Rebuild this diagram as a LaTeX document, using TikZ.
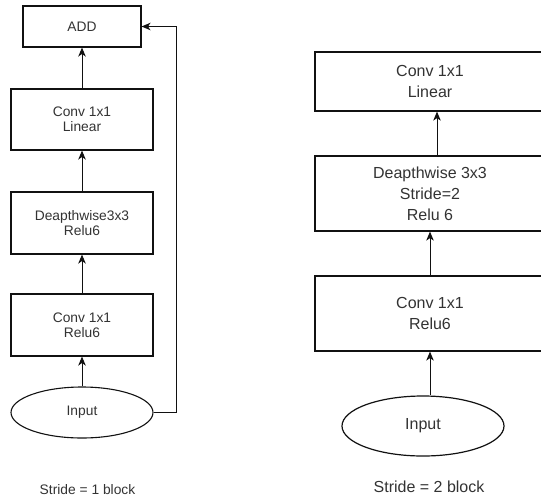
\documentclass[tikz,border=0pt]{standalone}
\usepackage{fontspec}
\setmainfont{Liberation Sans}
\usetikzlibrary{shapes.geometric,arrows.meta}
\definecolor{txt}{HTML}{333333}
\definecolor{ln}{HTML}{111111}
\tikzset{
  lbox/.style={draw=ln, line width=1.1pt, rectangle, inner sep=0pt, align=center, text=txt, font=\fontsize{13.8}{15}\selectfont},
  rbox/.style={draw=ln, line width=1.2pt, rectangle, inner sep=0pt, align=center, text=txt, font=\fontsize{16}{21}\selectfont, minimum width=230pt},
  lell/.style={draw=ln, line width=1.1pt, ellipse, inner sep=0pt, text=txt, font=\fontsize{13.8}{15}\selectfont},
  rell/.style={draw=ln, line width=1.2pt, ellipse, inner sep=0pt, text=txt, font=\fontsize{16}{19}\selectfont},
  arr/.style={draw=ln, line width=1pt, -{Stealth[length=9pt,width=7.5pt,inset=2.5pt]}},
  cap1/.style={text=txt, font=\fontsize{13.8}{15}\selectfont, inner sep=0pt},
  cap2/.style={text=txt, font=\fontsize{16}{19}\selectfont, inner sep=0pt}
}
\begin{document}
\begin{tikzpicture}[x=1pt,y=-1pt]
\useasboundingbox (0,0) rectangle (541,499);
\clip (0,0) rectangle (541,499);
\fill[white] (0,0) rectangle (541,499);
% left column
\node[lbox, minimum width=118pt, minimum height=41pt] (add) at (82,26.5) {ADD};
\node[lbox, minimum width=142pt, minimum height=61pt] (l1) at (82,119.5) {Conv 1x1\\Linear};
\node[lbox, minimum width=142pt, minimum height=62pt] (l2) at (82,223) {Deapthwise3x3\\Relu6};
\node[lbox, minimum width=142pt, minimum height=62pt] (l3) at (82,325) {Conv 1x1\\Relu6};
\node[lell, minimum width=142pt, minimum height=51pt] (lin) at (82,412.5) {Input};
\coordinate (lc) at (176,412.5);
\draw[arr] (lin) -- (l3);
\draw[arr] (l3) -- (l2);
\draw[arr] (l2) -- (l1);
\draw[arr] (l1) -- (add);
\draw[arr] (lin.east) -- (lc) |- (add.east);
\node[cap1] (lcap) at (87.5,490) {Stride = 1 block};
% right column
\node[rbox, minimum height=59pt] (r1) at (430,81.5) {Conv 1x1\\Linear};
\node[rbox, minimum height=75pt] (r2) at (430,193.5) {Deapthwise 3x3\\Stride=2\\Relu 6};
\node[rbox, minimum height=75pt] (r3) at (430,313.5) {Conv 1x1\\Relu6};
\node[rell, minimum width=162pt, minimum height=60pt] (rin) at (423,426) {Input};
\draw[arr] (r3.south |- rin.north) -- (r3.south);
\draw[arr] (r3.north) -- (r2.south);
\draw[arr] ([xshift=7pt]r2.north) -- ([xshift=7pt]r1.south);
\node[cap2] (rcap) at (429,487) {Stride = 2 block};
\end{tikzpicture}
\end{document}
